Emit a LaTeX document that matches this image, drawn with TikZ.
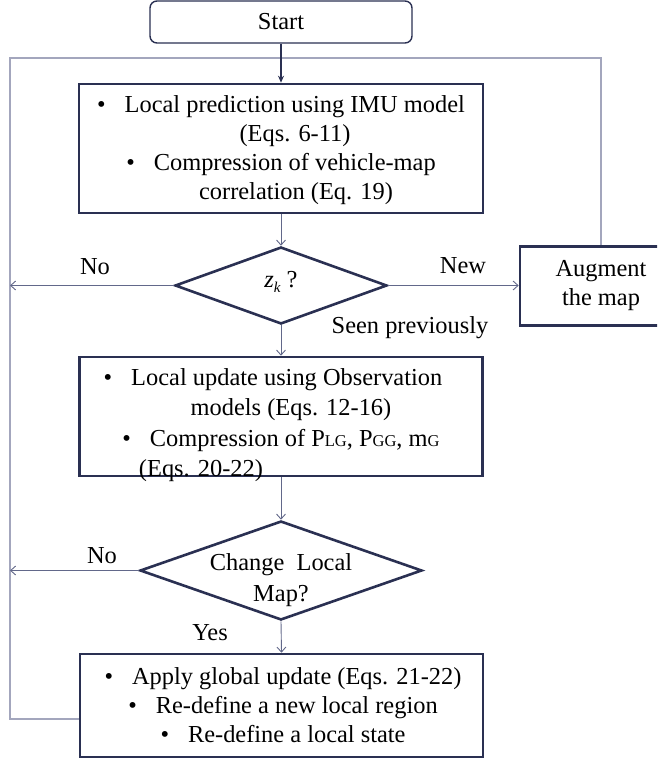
\documentclass[tikz,border=0pt]{standalone}
\usepackage{fontspec}
\setmainfont{Liberation Serif}
\usetikzlibrary{shapes.geometric,arrows.meta}
\definecolor{navy}{HTML}{2A3052}
\definecolor{connc}{HTML}{62688A}
\definecolor{loopc}{HTML}{A3A6BD}
\newcommand{\bul}{\textbullet\hspace{19pt}}
\newcommand{\smc}[1]{{\fontsize{16.5}{16.5}\selectfont #1}}
\begin{document}
\begin{tikzpicture}[x=1pt,y=-1pt,
  every node/.style={font=\fontsize{24.4}{29}\selectfont, text=black},
  procbox/.style={draw=navy, line width=2.6pt, inner sep=0pt},
  startbox/.style={draw=navy, line width=1.4pt, rounded corners=7pt, inner sep=0pt},
  decision/.style={draw=navy, line width=2.6pt, diamond, inner sep=0pt},
  boxtext/.style={inner sep=0pt, align=center},
  conn/.style={draw=connc, line width=0.9pt, -{Straight Barb[length=5pt,width=9pt]}},
  startarrow/.style={draw=navy, line width=1.3pt, -{Stealth[length=7pt,width=6pt]}},
  loopline/.style={draw=loopc, line width=1.3pt},
  lbl/.style={inner sep=0pt}
]
\useasboundingbox (0,0) rectangle (657,762);
\clip (0,0) rectangle (657,762);

% nodes
\node[startbox, minimum width=262pt, minimum height=42pt] (start) at (281,22) {Start};

\node[procbox, minimum width=404pt, minimum height=129pt] (b1) at (281,148.5) {};
\node[boxtext] (b1t) at (281,150) {\bul Local prediction using IMU model\\
  \hspace*{28pt}(Eqs. 6-11)\\
  \bul Compression of vehicle-map\\
  \hspace*{30pt}correlation (Eq. 19)};

\node[decision, minimum width=212pt, minimum height=77pt] (d1) at (281,285.5) {};
\node[lbl] (d1t) at (281,282) {\itshape z\raisebox{-5pt}{\fontsize{15}{15}\selectfont\itshape k}\upshape\ ?};

\node[procbox, minimum width=162pt, minimum height=79pt, align=center] (aug) at (601,286) {Augment\\the map};

\node[procbox, minimum width=403pt, minimum height=119pt] (b2) at (281,416.5) {};
\node[boxtext, font=\fontsize{24.4}{30.5}\selectfont] (b2t) at (281,425) {\bul Local update using Observation\hspace*{16pt}\\
  \hspace*{20pt}models (Eqs. 12-16)\\
  \bul Compression of P\smc{LG}, P\smc{GG}, m\smc{G}\hspace*{15pt}\\
  (Eqs. 20-22)\hspace*{160pt}};

\node[decision, minimum width=282pt, minimum height=99pt] (d2) at (281,570.5) {};
\node[boxtext, font=\fontsize{24.4}{31}\selectfont] (d2t) at (281,580) {Change~~Local\\Map?};

\node[procbox, minimum width=403pt, minimum height=103pt] (b3) at (281.5,705.5) {};
\node[boxtext] (b3t) at (283,705) {\bul Apply global update (Eqs. 21-22)\\
  \bul Re-define a new local region\\
  \bul Re-define a local state};

% coordinates
\coordinate (nl1) at (10,285.5);
\coordinate (nl2) at (10,570.5);
\coordinate (lb) at (10,719);
\coordinate (tl) at (10,58);
\coordinate (tr) at (601,58);

% labels
\node[lbl] (lno1) at (95,267) {No};
\node[lbl] (lnew) at (463,266) {New};
\node[lbl] (lseen) at (410,328) {Seen previously};
\node[lbl] (lno2) at (102,556) {No};
\node[lbl] (lyes) at (210,633) {Yes};

% connectors
\draw[loopline] (b3.west |- lb) -- (lb) -- (tl) -- (tr) -- (aug.north);
\draw[startarrow] (start.south) -- (b1.north);
\draw[conn] (b1.south) -- (d1.north);
\draw[conn] (d1.west) -- (nl1);
\draw[conn] (d1.east) -- (aug.west |- d1.east);
\draw[conn] (d1.south) -- (b2.north);
\draw[conn] (b2.south) -- (d2.north);
\draw[conn] (d2.west) -- (nl2);
\draw[conn] (d2.south) -- (b3.north);
\end{tikzpicture}
\end{document}
